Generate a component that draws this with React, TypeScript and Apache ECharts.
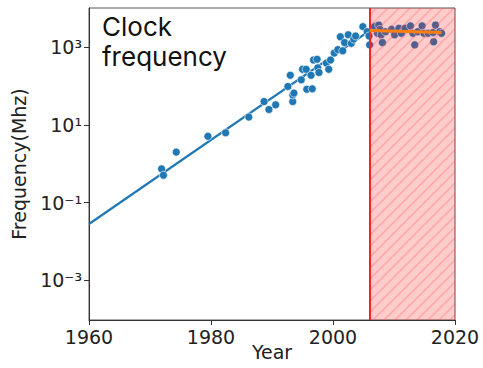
import React, { useEffect, useRef } from "react";
import * as echarts from "echarts";

const years: number[] = [
  1971.9, 1972.2, 1974.3, 1979.5, 1982.4, 1986.2, 1988.7, 1989.5, 1990.6, 1992.6,
  1993.0, 1993.4, 1993.4, 1993.6, 1994.8, 1995.0, 1995.6, 1995.7, 1996.6, 1996.4,
  1996.8, 1997.4, 1997.5, 1997.7, 1998.9, 1999.3, 1999.6, 2000.2, 2000.8, 2001.2,
  2001.6, 2001.9, 2002.5, 2003.0, 2003.4, 2003.7, 2004.9, 2005.6, 2005.9, 2006.0,
  2006.8, 2007.3, 2007.5, 2007.7, 2007.9, 2008.1, 2008.6, 2009.6, 2010.1, 2010.8,
  2011.2, 2011.8, 2012.7, 2013.1, 2013.4, 2013.9, 2014.6, 2014.9, 2015.6, 2016.4,
  2016.5, 2016.8, 2017.5, 2017.8,
];
const freqMhz: number[] = [
  0.74, 0.51, 2.0, 5.1, 6.3, 16, 40, 25, 33, 98,
  190, 40, 59, 66, 145, 270, 270, 83, 85, 190,
  470, 490, 295, 224, 390, 270, 470, 710, 870, 1860,
  810, 1320, 2090, 1260, 1620, 1950, 3390, 2510, 1950, 1150,
  3390, 2290, 3720, 2880, 2090, 1320, 2510, 2880, 2090, 3090,
  2290, 3090, 3550, 2290, 1150, 2510, 3550, 2290, 2290, 2400,
  1380, 3720, 2510, 2290,
];
const fitYears: number[] = [1960, 2006];
const fitFreq: number[] = [0.0282, 2690];
const flatYears: number[] = [2006, 2017.8];
const flatFreq: number[] = [2690, 2400];
const breakYear = 2006;
const shadeRange: number[] = [2006, 2020];
const xTicks: number[] = [1960, 1980, 2000, 2020];
const yTicks: number[] = [1e-3, 1e-1, 1e1, 1e3];
const yTickLabels: string[] = ["10⁻³", "10⁻¹", "10¹", "10³"];

function hatchImage(s: number): string {
  const c = document.createElement("canvas");
  c.width = s;
  c.height = s;
  const ctx = c.getContext("2d")!;
  ctx.strokeStyle = "rgba(255,70,70,0.25)";
  ctx.lineWidth = 1.6;
  ctx.beginPath();
  ctx.moveTo(-1, s + 1);
  ctx.lineTo(s + 1, -1);
  ctx.moveTo(-2, 2);
  ctx.lineTo(2, -2);
  ctx.moveTo(s - 2, s + 2);
  ctx.lineTo(s + 2, s - 2);
  ctx.stroke();
  return c.toDataURL();
}

export default function App() {
  const ref = useRef<HTMLDivElement>(null);
  useEffect(() => {
    if (!ref.current) return;
    const chart = echarts.init(ref.current, null, { renderer: "svg" });
    const hs = 11;
    const hatch = hatchImage(hs);
    const font = "DejaVu Sans";
    chart.setOption({
      animation: false,
      textStyle: { fontFamily: font },
      grid: {
        left: 89,
        top: 8,
        width: 366,
        height: 312,
        show: true,
        borderColor: "#555",
        borderWidth: 1,
        containLabel: false,
        outerBoundsMode: "none",
      },
      graphic: [
        {
          type: "text",
          left: 102,
          top: 11,
          z: 100,
          style: {
            text: "Clock\nfrequency",
            font: "400 26px Inter",
            lineHeight: 30,
            fill: "#111",
          },
        },
      ],
      xAxis: {
        type: "value",
        min: 1960,
        max: 2020,
        interval: 20,
        name: "Year",
        nameLocation: "middle",
        nameGap: 22,
        nameMoveOverlap: false,
        nameTextStyle: { fontSize: 19, color: "#222", fontFamily: font },
        splitLine: { show: false },
        axisLine: { lineStyle: { color: "#333", width: 1 } },
        axisTick: { show: true, length: 5, lineStyle: { color: "#333" }, customValues: xTicks },
        axisLabel: {
          fontSize: 19,
          color: "#222",
          margin: 7,
          fontFamily: font,
          customValues: xTicks,
          formatter: (v: number) => String(Math.round(v)),
        },
      },
      yAxis: {
        type: "log",
        logBase: 10,
        min: Math.pow(10, -4.02),
        max: Math.pow(10, 4.01),
        name: "Frequency(Mhz)",
        nameLocation: "middle",
        nameGap: 61,
        nameTextStyle: { fontSize: 19, color: "#222", fontFamily: font },
        splitLine: { show: false },
        axisLine: { show: true, lineStyle: { color: "#333", width: 1 } },
        axisTick: { show: true, length: 5, lineStyle: { color: "#333" }, customValues: yTicks },
        axisLabel: {
          fontSize: 19,
          color: "#222",
          margin: 7,
          fontFamily: font,
          customValues: yTicks,
          formatter: (v: number) => {
            const i = yTicks.findIndex((t) => Math.abs(Math.log10(t) - Math.log10(v)) < 1e-6);
            return i >= 0 ? yTickLabels[i] : "";
          },
        },
      },
      series: [
        {
          type: "line",
          data: fitYears.map((y, i) => [y, fitFreq[i]]),
          showSymbol: false,
          lineStyle: { color: "#1f77b4", width: 2.2 },
          z: 2,
        },
        {
          type: "scatter",
          data: years.map((y, i) => [y, freqMhz[i]]),
          symbolSize: 8,
          itemStyle: { color: "#1f77b4", borderColor: "#ffffff", borderWidth: 0.6, opacity: 1 },
          z: 3,
        },
        {
          type: "custom",
          data: [shadeRange],
          z: 4,
          renderItem: (params: any, api: any) => {
            const cs = params.coordSys;
            const x0 = api.coord([api.value(0), 1])[0];
            const x1 = api.coord([api.value(1), 1])[0];
            return {
              type: "group",
              children: [
                {
                  type: "rect",
                  shape: { x: x0, y: cs.y, width: x1 - x0, height: cs.height },
                  style: { fill: "rgba(255,0,0,0.2)" },
                },
                {
                  type: "rect",
                  shape: { x: x0, y: cs.y, width: x1 - x0, height: cs.height },
                  style: {
                    fill: { image: hatch, repeat: "repeat", imageWidth: hs, imageHeight: hs },
                  },
                },
              ],
            };
          },
        },
        {
          type: "line",
          data: flatYears.map((y, i) => [y, flatFreq[i]]),
          showSymbol: false,
          lineStyle: { color: "#ff7f0e", width: 3 },
          z: 5,
          markLine: {
            symbol: "none",
            silent: true,
            label: { show: false },
            lineStyle: { color: "#ff2020", width: 2, type: "solid" },
            data: [{ xAxis: breakYear }],
          },
        },
      ],
    });
    return () => chart.dispose();
  }, []);
  return (
    <div
      ref={ref}
      style={{ position: "fixed", left: 0, top: 0, width: 483, height: 368, background: "#fff" }}
    />
  );
}
